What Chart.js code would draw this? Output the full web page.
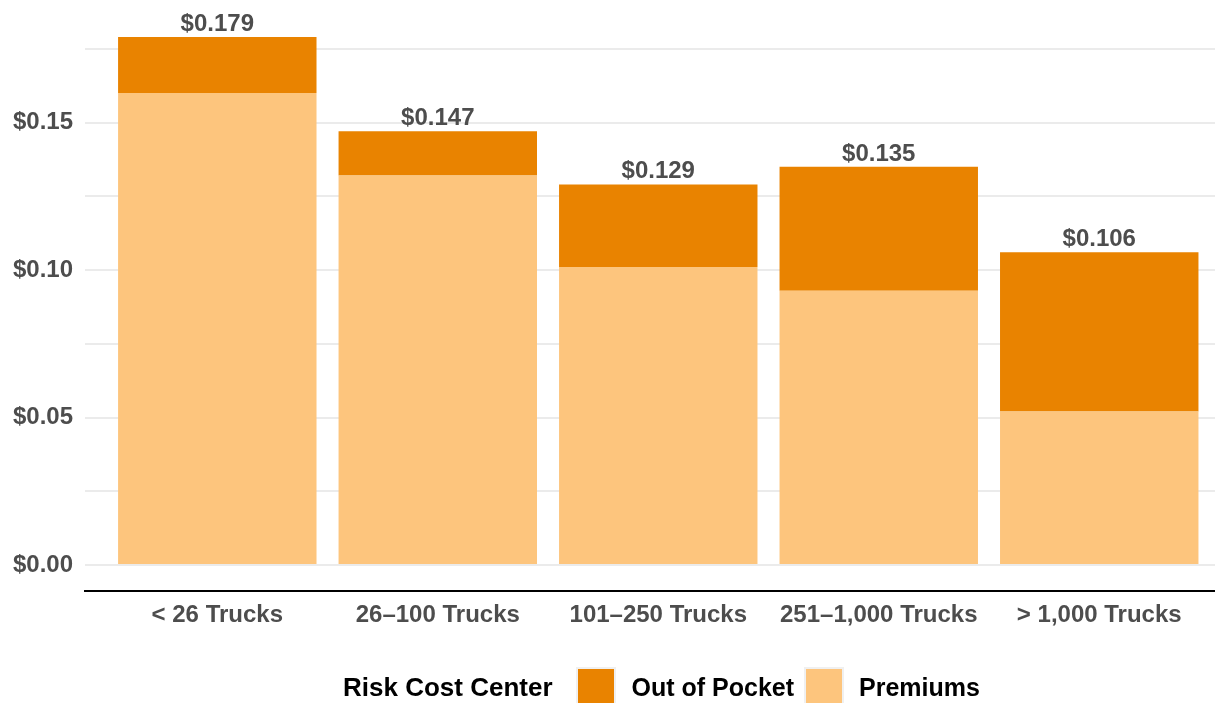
<!DOCTYPE html>
<html>
<head>
<meta charset="utf-8">
<script src="https://cdn.jsdelivr.net/npm/chart.js@4.4.1/dist/chart.umd.min.js"></script>
<style>
  html, body { margin: 0; padding: 0; background: #ffffff; overflow: hidden; }
  #wrap { position: relative; width: 1215px; height: 703px; }
  canvas { position: absolute; left: 0; top: 0; }
  #legend { position: absolute; left: 343px; top: 667px; height: 40px; display: flex; align-items: center;
    font-family: "Liberation Sans", Arial, sans-serif; font-weight: bold; font-size: 25px; color: #000; }
  .key { width: 40px; height: 40px; box-sizing: border-box; border: 2px solid #f0f0f0; flex: none; }
</style>
</head>
<body>
<div id="wrap">
  <canvas id="c" width="1215" height="703"></canvas>
  <div id="legend">
    <span style="margin-right:23px;font-size:26px">Risk Cost Center</span>
    <div class="key" style="background:#E98300"></div>
    <span style="margin-left:16px;margin-right:10px">Out of Pocket</span>
    <div class="key" style="background:#FDC57D"></div>
    <span style="margin-left:15px">Premiums</span>
  </div>
</div>
<script>
const categories = ["< 26 Trucks", "26\u2013100 Trucks", "101\u2013250 Trucks", "251\u20131,000 Trucks", "> 1,000 Trucks"];
const premiums = [0.160, 0.132, 0.101, 0.093, 0.052];
const outOfPocket = [0.019, 0.015, 0.028, 0.042, 0.054];
const yTicks = [0, 0.025, 0.05, 0.075, 0.10, 0.125, 0.15, 0.175];

const FONT = '"Liberation Sans", Arial, sans-serif';
const GREY = '#4d4d4d';

const totalsPlugin = {
  id: 'totals',
  afterDatasetsDraw(chart) {
    const ctx = chart.ctx;
    const xs = chart.scales.x, ys = chart.scales.y;
    ctx.save();
    ctx.font = 'bold 24px ' + FONT;
    ctx.fillStyle = GREY;
    ctx.textAlign = 'center';
    ctx.textBaseline = 'alphabetic';
    categories.forEach((c, i) => {
      const total = premiums[i] + outOfPocket[i];
      const x = xs.getPixelForValue(i);
      const y = ys.getPixelForValue(total);
      ctx.fillText('$' + total.toFixed(3), x, y - 6);
    });
    ctx.restore();
  }
};

new Chart(document.getElementById('c'), {
  type: 'bar',
  data: {
    datasets: [
      { label: 'Premiums', data: premiums.map((v, i) => ({ x: i, y: v })), backgroundColor: '#FDC57D', borderWidth: 0 },
      { label: 'Out of Pocket', data: outOfPocket.map((v, i) => ({ x: i, y: v })), backgroundColor: '#E98300', borderWidth: 0 }
    ]
  },
  options: {
    responsive: false,
    animation: false,
    events: [],
    layout: { padding: { top: 10, right: 0, left: 0, bottom: 72 } },
    plugins: { legend: { display: false }, tooltip: { enabled: false } },
    datasets: { bar: { barPercentage: 0.9, categoryPercentage: 1.0 } },
    scales: {
      x: {
        type: 'linear',
        stacked: true,
        offset: false,
        min: -0.6,
        max: 4.525,
        grid: { display: false, drawTicks: false, offset: false },
        border: { display: true, color: '#000000', width: 2 },
        afterBuildTicks: (s) => { s.ticks = categories.map((c, i) => ({ value: i })); },
        afterFit: (s) => { s.height = 40; s.paddingLeft = 0; s.paddingRight = 0; },
        ticks: {
          autoSkip: false, maxRotation: 0, padding: 10,
          color: GREY, font: { family: FONT, size: 24, weight: 'bold' },
          callback: (v) => categories[v] !== undefined ? categories[v] : ''
        }
      },
      y: {
        stacked: true,
        min: -0.008814,
        max: 0.18814,
        grid: { color: '#ebebeb', lineWidth: 2, drawTicks: false },
        border: { display: false },
        afterBuildTicks: (s) => { s.ticks = yTicks.map(v => ({ value: v })); },
        afterFit: (s) => { s.width = 85; s.paddingTop = 0; s.paddingBottom = 0; },
        ticks: {
          padding: 12,
          color: GREY, font: { family: FONT, size: 24, weight: 'bold' },
          callback: (v) => {
            const r = Math.round(v * 1000);
            return (r % 50 === 0) ? '$' + v.toFixed(2) : '';
          }
        }
      }
    }
  },
  plugins: [totalsPlugin]
});
</script>
</body>
</html>
